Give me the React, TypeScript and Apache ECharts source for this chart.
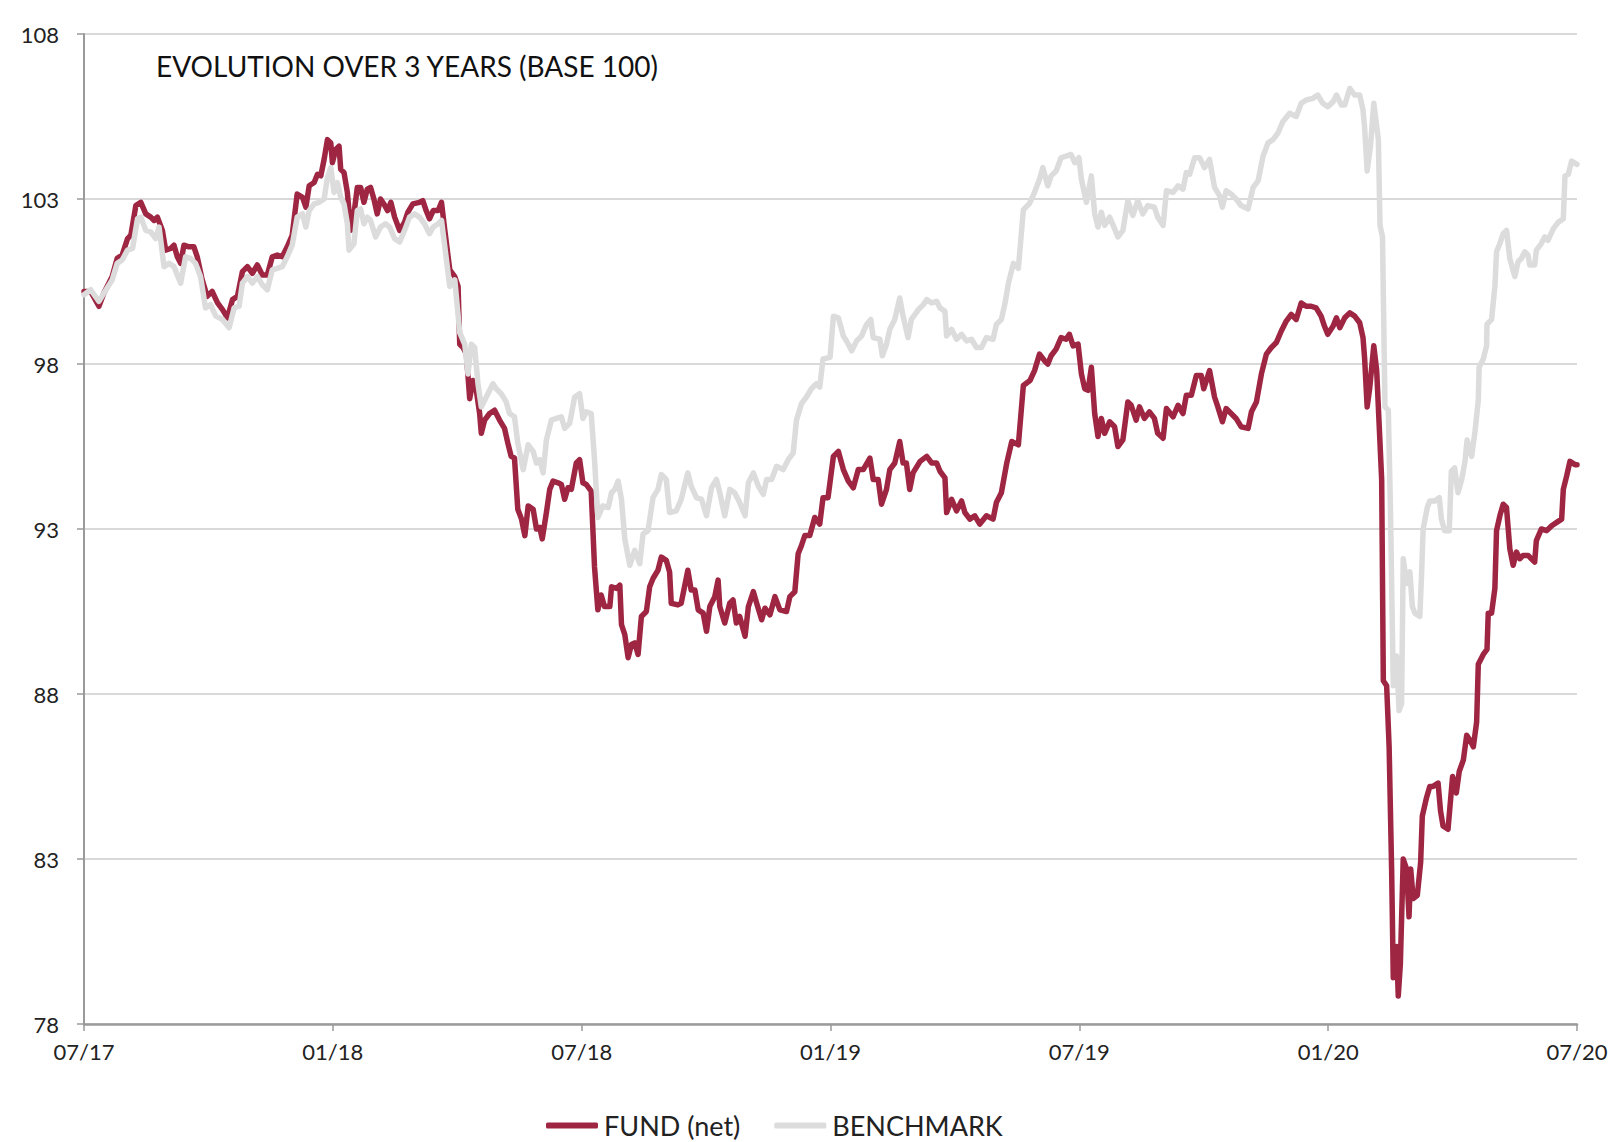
import React, { useEffect, useRef } from "react";
import * as echarts from "echarts";

const xTickLabels = ["07/17", "01/18", "07/18", "01/19", "07/19", "01/20", "07/20"];
const yMin = 78;
const yMax = 108;
const yStep = 5;

const fundMonths = [
  0.0, 0.16, 0.36, 0.48, 0.68, 0.8, 0.92, 1.05, 1.13, 1.25, 1.37, 1.49, 1.61, 1.69, 1.77, 1.89, 1.97, 2.09, 2.17, 2.25,
  2.33, 2.41, 2.53, 2.65, 2.73, 2.85, 2.97, 3.09, 3.22, 3.34, 3.46, 3.58, 3.7, 3.82, 3.94, 4.06, 4.18, 4.3, 4.42, 4.54,
  4.66, 4.78, 4.9, 5.02, 5.14, 5.27, 5.35, 5.43, 5.55, 5.63, 5.71, 5.79, 5.87, 5.95, 5.99, 6.07, 6.15, 6.19, 6.27, 6.35,
  6.43, 6.51, 6.59, 6.67, 6.75, 6.83, 6.91, 6.99, 7.07, 7.15, 7.23, 7.32, 7.4, 7.49, 7.61, 7.73, 7.81, 7.93, 8.09, 8.17,
  8.25, 8.33, 8.42, 8.54, 8.62, 8.7, 8.82, 8.94, 9.02, 9.06, 9.14, 9.22, 9.3, 9.38, 9.46, 9.54, 9.58, 9.66, 9.78, 9.9,
  10.02, 10.14, 10.22, 10.3, 10.38, 10.46, 10.55, 10.63, 10.71, 10.83, 10.91, 10.99, 11.05, 11.15, 11.23, 11.31, 11.43,
  11.51, 11.59, 11.67, 11.75, 11.87, 11.95, 12.03, 12.11, 12.23, 12.31, 12.39, 12.47, 12.55, 12.68, 12.72, 12.84, 12.92,
  12.96, 13.04, 13.12, 13.2, 13.28, 13.36, 13.44, 13.56, 13.64, 13.72, 13.84, 13.92, 14.04, 14.12, 14.16, 14.32, 14.4,
  14.56, 14.64, 14.73, 14.81, 14.93, 15.01, 15.09, 15.21, 15.29, 15.33, 15.45, 15.57, 15.65, 15.73, 15.81, 15.94, 16.02,
  16.14, 16.22, 16.34, 16.42, 16.54, 16.66, 16.78, 16.94, 17.02, 17.14, 17.22, 17.3, 17.38, 17.5, 17.62, 17.74, 17.82,
  17.94, 18.07, 18.19, 18.31, 18.43, 18.55, 18.67, 18.79, 18.95, 19.03, 19.15, 19.23, 19.35, 19.43, 19.55, 19.67, 19.75,
  19.83, 19.91, 19.99, 20.16, 20.32, 20.44, 20.56, 20.64, 20.76, 20.8, 20.92, 21.04, 21.16, 21.24, 21.36, 21.48, 21.6,
  21.76, 21.92, 22.0, 22.12, 22.25, 22.37, 22.53, 22.65, 22.81, 22.92, 23.04, 23.16, 23.24, 23.32, 23.44, 23.56, 23.68,
  23.76, 23.85, 23.97, 24.05, 24.13, 24.21, 24.29, 24.37, 24.45, 24.53, 24.61, 24.73, 24.85, 24.93, 25.05, 25.17, 25.25,
  25.37, 25.45, 25.57, 25.69, 25.81, 25.89, 26.02, 26.1, 26.26, 26.38, 26.5, 26.58, 26.7, 26.82, 26.94, 27.0, 27.14,
  27.26, 27.34, 27.45, 27.54, 27.66, 27.78, 27.9, 28.07, 28.15, 28.27, 28.39, 28.51, 28.63, 28.75, 28.87, 28.99, 29.11,
  29.23, 29.35, 29.47, 29.59, 29.71, 29.83, 29.91, 29.99, 30.12, 30.2, 30.28, 30.4, 30.52, 30.64, 30.76, 30.84, 30.88,
  30.94, 31.0, 31.1, 31.17, 31.23, 31.29, 31.33, 31.41, 31.47, 31.53, 31.57, 31.65, 31.69, 31.74, 31.81, 31.89, 31.95,
  31.99, 32.05, 32.15, 32.23, 32.27, 32.37, 32.45, 32.53, 32.65, 32.71, 32.77, 32.89, 33.0, 33.09, 33.16, 33.26, 33.34,
  33.42, 33.5, 33.58, 33.62, 33.74, 33.83, 33.86, 33.94, 34.02, 34.06, 34.14, 34.22, 34.3, 34.38, 34.46, 34.54, 34.62,
  34.7, 34.82, 34.9, 34.98, 35.02, 35.14, 35.27, 35.39, 35.51, 35.63, 35.67, 35.75, 35.83, 35.95, 36.0,
];

const fundValues = [
  100.2, 100.2, 99.75, 100.15, 100.65, 101.2, 101.3, 101.8, 101.9, 102.8, 102.9, 102.55, 102.45, 102.35, 102.45, 102.05,
  101.45, 101.5, 101.6, 101.25, 101.05, 101.6, 101.55, 101.55, 101.25, 100.55, 100.05, 100.2, 99.85, 99.65, 99.4, 99.95,
  100.05, 100.8, 100.95, 100.75, 101.0, 100.7, 100.7, 101.25, 101.3, 101.25, 101.55, 101.9, 103.15, 103.05, 102.75, 103.4,
  103.5, 103.75, 103.7, 104.2, 104.8, 104.7, 104.1, 104.5, 104.6, 103.9, 103.8, 103.2, 102.05, 102.55, 103.35, 103.35,
  102.9, 103.3, 103.35, 103.0, 102.55, 103.0, 102.85, 102.65, 102.9, 102.45, 102.05, 102.3, 102.6, 102.85, 102.9, 102.95,
  102.65, 102.4, 102.65, 102.65, 102.9, 102.05, 100.85, 100.65, 100.35, 98.6, 98.5, 98.3, 96.95, 97.5, 97.2, 96.5, 95.9,
  96.3, 96.5, 96.6, 96.3, 96.05, 95.6, 95.2, 95.15, 93.6, 93.3, 92.8, 93.7, 93.6, 93.0, 93.05, 92.7, 93.5, 94.2, 94.45,
  94.4, 94.35, 93.9, 94.25, 94.2, 95.0, 95.1, 94.4, 94.35, 94.15, 91.85, 90.55, 91.0, 90.65, 90.65, 91.25, 91.2, 91.3,
  90.1, 89.8, 89.1, 89.5, 89.55, 89.2, 90.35, 90.5, 91.25, 91.5, 91.75, 92.15, 92.05, 91.7, 90.75, 90.7, 90.75, 91.75,
  91.15, 91.15, 90.55, 90.45, 89.9, 90.65, 90.95, 91.45, 90.65, 90.15, 90.75, 90.85, 90.15, 90.35, 89.75, 90.65, 91.1,
  90.75, 90.25, 90.6, 90.4, 90.95, 90.55, 90.5, 90.95, 91.1, 92.25, 92.5, 92.8, 92.8, 93.35, 93.15, 93.95, 93.95, 95.2,
  95.35, 94.8, 94.45, 94.25, 94.8, 94.8, 95.15, 94.5, 94.5, 93.75, 94.2, 94.8, 95.0, 95.65, 95.0, 95.0, 94.2, 94.7, 95.05,
  95.2, 95.0, 95.0, 94.75, 94.55, 93.5, 93.9, 93.55, 93.85, 93.5, 93.3, 93.4, 93.15, 93.4, 93.3, 93.8, 94.1, 95.0, 95.65,
  95.55, 97.35, 97.5, 97.8, 98.3, 98.1, 98.0, 98.25, 98.45, 98.8, 98.75, 98.9, 98.55, 98.6, 97.7, 97.25, 97.2, 97.9, 96.5,
  95.8, 96.35, 95.9, 96.25, 96.1, 95.5, 95.7, 96.85, 96.75, 96.3, 96.7, 96.35, 96.55, 96.35, 95.9, 95.75, 96.65, 96.4,
  96.75, 96.5, 97.05, 97.05, 97.65, 97.65, 97.25, 97.8, 97.0, 96.7, 96.25, 96.65, 96.5, 96.35, 96.1, 96.05, 96.55, 96.85,
  97.7, 98.3, 98.5, 98.65, 99.0, 99.3, 99.5, 99.35, 99.85, 99.75, 99.75, 99.7, 99.45, 99.15, 98.9, 99.15, 99.4, 99.1,
  99.4, 99.55, 99.45, 99.25, 98.8, 98.15, 96.7, 97.25, 98.55, 97.8, 96.15, 94.5, 88.4, 88.25, 86.4, 82.7, 79.4, 80.35,
  78.85, 79.8, 83.0, 82.7, 81.25, 82.7, 81.8, 81.9, 82.9, 84.3, 84.85, 85.2, 85.2, 85.3, 84.45, 84.0, 83.9, 85.5, 85.0,
  85.65, 86.0, 86.75, 86.6, 86.4, 87.15, 88.9, 89.2, 89.35, 90.45, 90.45, 91.2, 92.95, 93.4, 93.75, 93.65, 92.4, 91.9,
  92.3, 92.1, 92.2, 92.2, 92.1, 92.0, 92.65, 93.0, 92.95, 93.1, 93.2, 93.3, 94.2, 94.6, 95.05, 94.95, 94.95,
];

const benchMonths = [
  0.0, 0.16, 0.36, 0.48, 0.68, 0.8, 0.92, 1.05, 1.17, 1.29, 1.37, 1.49, 1.61, 1.73, 1.81, 1.93, 2.05, 2.17, 2.33, 2.45,
  2.57, 2.69, 2.81, 2.93, 3.05, 3.18, 3.34, 3.5, 3.62, 3.74, 3.82, 3.94, 4.06, 4.18, 4.3, 4.42, 4.54, 4.66, 4.78, 4.9,
  5.02, 5.14, 5.27, 5.35, 5.43, 5.55, 5.67, 5.79, 5.87, 5.95, 6.03, 6.11, 6.19, 6.27, 6.35, 6.39, 6.51, 6.59, 6.67, 6.75,
  6.83, 6.91, 7.03, 7.15, 7.27, 7.37, 7.49, 7.61, 7.73, 7.85, 7.97, 8.09, 8.21, 8.33, 8.42, 8.54, 8.62, 8.7, 8.82, 8.94,
  9.06, 9.18, 9.26, 9.34, 9.42, 9.5, 9.58, 9.7, 9.86, 9.94, 10.06, 10.18, 10.26, 10.38, 10.46, 10.59, 10.71, 10.83,
  10.91, 10.99, 11.07, 11.15, 11.27, 11.39, 11.51, 11.59, 11.71, 11.83, 11.95, 12.03, 12.11, 12.23, 12.31, 12.39, 12.51,
  12.64, 12.72, 12.8, 12.88, 12.96, 13.04, 13.16, 13.28, 13.4, 13.48, 13.6, 13.72, 13.84, 13.92, 14.04, 14.12, 14.28,
  14.4, 14.56, 14.64, 14.77, 14.89, 15.01, 15.13, 15.25, 15.33, 15.45, 15.57, 15.69, 15.81, 15.94, 16.02, 16.14, 16.26,
  16.38, 16.46, 16.58, 16.7, 16.86, 16.98, 17.1, 17.18, 17.3, 17.42, 17.54, 17.66, 17.74, 17.82, 17.99, 18.07, 18.19,
  18.31, 18.43, 18.51, 18.63, 18.75, 18.87, 18.97, 19.03, 19.19, 19.25, 19.35, 19.43, 19.55, 19.67, 19.75, 19.87, 19.95,
  20.12, 20.24, 20.32, 20.44, 20.56, 20.64, 20.76, 20.8, 20.92, 21.04, 21.16, 21.28, 21.4, 21.52, 21.64, 21.76, 21.92,
  22.0, 22.12, 22.21, 22.29, 22.41, 22.53, 22.65, 22.8, 22.92, 23.04, 23.12, 23.24, 23.32, 23.44, 23.56, 23.68, 23.8,
  23.89, 23.99, 24.05, 24.17, 24.29, 24.37, 24.45, 24.53, 24.61, 24.73, 24.85, 24.93, 25.05, 25.17, 25.29, 25.41, 25.53,
  25.65, 25.81, 25.89, 26.02, 26.1, 26.26, 26.38, 26.5, 26.58, 26.66, 26.78, 26.9, 27.02, 27.14, 27.26, 27.38, 27.45,
  27.54, 27.66, 27.78, 27.9, 28.07, 28.19, 28.31, 28.43, 28.55, 28.67, 28.79, 28.91, 29.07, 29.23, 29.35, 29.47, 29.63,
  29.75, 29.87, 29.99, 30.12, 30.2, 30.32, 30.4, 30.52, 30.64, 30.76, 30.84, 30.88, 30.94, 31.02, 31.1, 31.21, 31.25,
  31.31, 31.37, 31.45, 31.5, 31.57, 31.65, 31.71, 31.77, 31.81, 31.89, 31.97, 32.03, 32.09, 32.21, 32.25, 32.29, 32.39,
  32.45, 32.57, 32.68, 32.73, 32.81, 32.92, 32.97, 33.05, 33.13, 33.22, 33.3, 33.35, 33.46, 33.54, 33.62, 33.64, 33.74,
  33.82, 33.83, 33.94, 34.02, 34.06, 34.14, 34.22, 34.3, 34.38, 34.5, 34.58, 34.66, 34.74, 34.82, 34.86, 34.98, 35.02,
  35.14, 35.22, 35.3, 35.43, 35.55, 35.67, 35.71, 35.79, 35.87, 36.0,
];

const benchValues = [
  100.1, 100.25, 99.9, 100.15, 100.55, 101.05, 101.15, 101.45, 101.5, 102.4, 102.45, 102.05, 102.0, 101.8, 102.15, 100.95,
  101.05, 100.95, 100.45, 101.25, 101.2, 101.05, 100.65, 99.7, 99.8, 99.45, 99.35, 99.1, 99.7, 99.75, 100.45, 100.65,
  100.45, 100.65, 100.4, 100.25, 100.85, 100.9, 100.95, 101.25, 101.6, 102.45, 102.55, 102.15, 102.65, 102.85, 102.9,
  103.0, 103.65, 103.95, 103.2, 103.5, 103.05, 102.85, 102.25, 101.45, 101.65, 102.65, 102.7, 102.25, 102.45, 102.35,
  101.85, 102.15, 102.25, 102.15, 101.8, 101.7, 102.05, 102.45, 102.55, 102.45, 102.25, 101.95, 102.15, 102.25, 102.35,
  101.55, 100.35, 100.55, 98.95, 98.6, 97.7, 98.6, 98.5, 97.4, 96.7, 97.0, 97.4, 97.25, 97.1, 96.85, 96.5, 96.4, 95.6,
  94.8, 95.55, 95.35, 95.0, 95.1, 94.7, 95.7, 96.3, 96.35, 96.4, 96.05, 96.2, 97.0, 97.1, 96.35, 96.55, 96.5, 95.1, 93.35,
  93.7, 93.65, 94.1, 94.2, 94.45, 93.9, 92.7, 91.9, 92.35, 91.95, 92.85, 92.95, 93.95, 94.2, 94.65, 94.5, 93.5, 93.55,
  93.9, 94.7, 94.3, 93.95, 93.9, 93.4, 94.25, 94.5, 94.1, 93.4, 94.2, 94.1, 93.8, 93.4, 94.4, 94.7, 94.3, 94.05, 94.5,
  94.5, 94.9, 94.8, 95.1, 95.3, 96.3, 96.8, 97.0, 97.25, 97.4, 97.3, 98.15, 98.2, 99.45, 99.4, 98.85, 98.6, 98.4, 98.7,
  98.85, 99.2, 99.35, 98.8, 98.75, 98.25, 98.6, 99.05, 99.35, 100.0, 99.45, 98.8, 99.35, 99.65, 99.8, 99.95, 99.85, 99.9,
  99.7, 99.6, 98.85, 99.05, 98.75, 98.9, 98.7, 98.75, 98.5, 98.5, 98.8, 98.75, 99.2, 99.35, 99.85, 100.45, 101.05, 100.9,
  102.67, 102.87, 103.2, 103.6, 103.95, 103.4, 103.7, 103.85, 104.25, 104.3, 104.35, 104.1, 104.25, 103.6, 102.9, 103.7,
  102.55, 102.15, 102.6, 102.2, 102.45, 102.1, 101.85, 102.05, 102.95, 102.5, 102.95, 102.55, 102.8, 102.75, 102.45,
  102.2, 103.25, 103.2, 103.4, 103.3, 103.8, 103.75, 104.25, 104.25, 103.95, 104.2, 103.35, 103.1, 102.75, 103.25,
  103.15, 103.0, 102.8, 102.7, 103.35, 103.55, 104.3, 104.7, 104.8, 105.0, 105.35, 105.6, 105.5, 105.9, 106.0, 106.05,
  106.15, 105.9, 105.8, 105.95, 106.15, 105.85, 105.85, 106.35, 106.15, 106.15, 105.7, 105.15, 103.85, 104.6, 105.9,
  104.8, 102.2, 101.85, 96.7, 96.6, 93.75, 88.25, 89.15, 87.5, 87.7, 92.1, 91.35, 91.7, 90.65, 90.45, 90.35, 91.55, 93.0,
  93.65, 93.85, 93.85, 93.95, 93.3, 92.95, 92.95, 94.75, 94.85, 94.1, 94.5, 95.05, 95.7, 95.2, 95.95, 96.9, 97.9, 98.15,
  98.55, 99.2, 99.35, 100.35, 101.4, 101.65, 101.95, 102.05, 101.2, 100.65, 101.1, 101.2, 101.4, 101.3, 101.0, 101.0,
  101.45, 101.65, 101.85, 101.75, 102.1, 102.3, 102.4, 103.7, 103.75, 104.15, 104.05,
];

const FONT = "Lato, 'Noto Sans', sans-serif";
const FUND_COLOR = "#9e2642";
const BENCH_COLOR = "#dcdcdc";

export default function App() {
  const ref = useRef<HTMLDivElement>(null);

  useEffect(() => {
    document.body.style.margin = "0";
    if (!ref.current) return;
    const chart = echarts.init(ref.current, null, { renderer: "svg" });

    const fundData = fundMonths.map((m, i) => [m, fundValues[i]]);
    const benchData = benchMonths.map((m, i) => [m, benchValues[i]]);

    chart.setOption({
      animation: false,
      backgroundColor: "#ffffff",
      textStyle: { fontFamily: FONT },
      title: {
        text: "EVOLUTION OVER 3 YEARS (BASE 100)",
        left: 156,
        top: 52,
        padding: 0,
        textStyle: { fontFamily: FONT, fontSize: 28, fontWeight: "normal", color: "#111111" },
      },
      grid: { left: 84, right: 39, top: 34, bottom: 118, containLabel: false, outerBoundsMode: "none" },
      legend: {
        left: 546,
        top: 1112,
        padding: 0,
        itemWidth: 52,
        itemHeight: 6,
        itemGap: 34,
        icon: "roundRect",
        textStyle: { fontFamily: FONT, fontSize: 27, color: "#222222", padding: [0, 0, 0, 1] },
        data: ["FUND (net)", "BENCHMARK"],
      },
      xAxis: {
        type: "value",
        min: 0,
        max: 36,
        interval: 6,
        splitLine: { show: false },
        axisLine: { show: true, lineStyle: { color: "#9a9a9a", width: 2.5 } },
        axisTick: { show: true, length: 7, lineStyle: { color: "#9a9a9a", width: 1.5 } },
        axisLabel: {
          margin: 16,
          fontFamily: FONT,
          fontSize: 22,
          color: "#222222",
          formatter: (v: number) => xTickLabels[Math.round(v / 6)] ?? "",
        },
      },
      yAxis: {
        type: "value",
        min: yMin,
        max: yMax,
        interval: yStep,
        axisLine: { show: true, lineStyle: { color: "#9a9a9a", width: 2 } },
        axisTick: { show: true, length: 7, lineStyle: { color: "#9a9a9a", width: 1.5 } },
        splitLine: { show: true, lineStyle: { color: "#d9d9d9", width: 2 } },
        axisLabel: { margin: 25, fontFamily: FONT, fontSize: 22, color: "#222222" },
      },
      series: [
        {
          name: "FUND (net)",
          type: "line",
          data: fundData,
          showSymbol: false,
          symbol: "none",
          lineStyle: { color: FUND_COLOR, width: 5.5, join: "round", cap: "round" },
          itemStyle: { color: FUND_COLOR },
          z: 2,
        },
        {
          name: "BENCHMARK",
          type: "line",
          data: benchData,
          showSymbol: false,
          symbol: "none",
          lineStyle: { color: BENCH_COLOR, width: 5.5, join: "round", cap: "round" },
          itemStyle: { color: BENCH_COLOR },
          z: 3,
        },
      ],
    });

    return () => chart.dispose();
  }, []);

  return <div ref={ref} style={{ width: 1616, height: 1142 }} />;
}
